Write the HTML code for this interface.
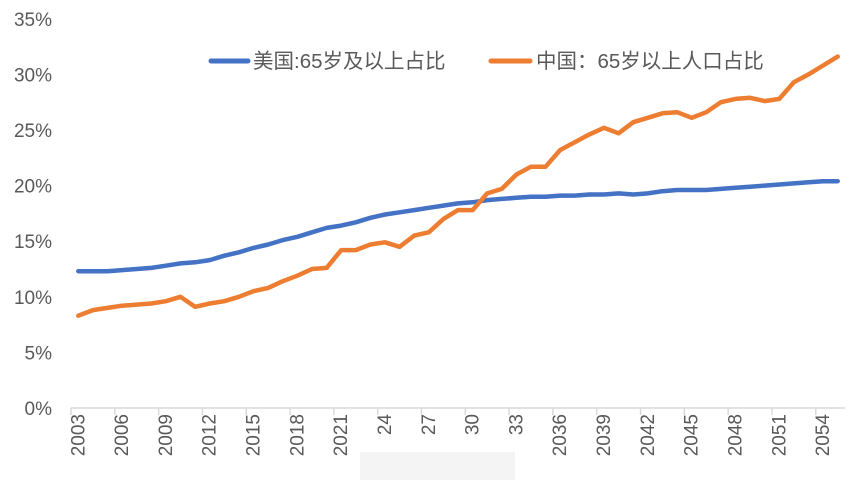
<!DOCTYPE html>
<html><head><meta charset="utf-8"><style>
body{margin:0;background:#fff;}
svg text{font-family:"Liberation Sans","Noto Sans CJK SC",sans-serif;fill:#595959;}
</style></head><body>
<svg id="chart" width="865" height="487" viewBox="0 0 865 487" xmlns="http://www.w3.org/2000/svg">
<g id="yaxis"></g>
<g id="xaxis"></g>
<g id="series"></g>
<rect x="360" y="452" width="155" height="28" fill="#ececec" opacity="0.6"/>
<g>
<line x1="211" y1="61" x2="248" y2="61" stroke="#4472C4" stroke-width="5" stroke-linecap="round"/>
<text x="253" y="68" font-size="20.5">美国:65岁及以上占比</text>
<line x1="491" y1="61" x2="530" y2="61" stroke="#ED7D31" stroke-width="5" stroke-linecap="round"/>
<text x="536" y="68" font-size="20.5">中国：65岁以上人口占比</text>
</g>
</svg>
<script>
const years=[];for(let y=2003;y<=2055;y++)years.push(y);
const usValues=[12.3,12.3,12.3,12.4,12.5,12.6,12.8,13.0,13.1,13.3,13.7,14.0,14.4,14.7,15.1,15.4,15.8,16.2,16.4,16.7,17.1,17.4,17.6,17.8,18.0,18.2,18.4,18.5,18.7,18.8,18.9,19.0,19.0,19.1,19.1,19.2,19.2,19.3,19.2,19.3,19.5,19.6,19.6,19.6,19.7,19.8,19.9,20.0,20.1,20.2,20.3,20.4,20.4];
const cnValues=[8.3,8.8,9.0,9.2,9.3,9.4,9.6,10.0,9.1,9.4,9.6,10.0,10.5,10.8,11.4,11.9,12.5,12.6,14.2,14.2,14.7,14.9,14.5,15.5,15.8,17.0,17.8,17.8,19.3,19.7,21.0,21.7,21.7,23.2,23.9,24.6,25.2,24.7,25.7,26.1,26.5,26.6,26.1,26.6,27.5,27.8,27.9,27.6,27.8,29.3,30.0,30.8,31.6];
const yTicks=[0,5,10,15,20,25,30,35];
const xLabels={2003:"2003",2006:"2006",2009:"2009",2012:"2012",2015:"2015",2018:"2018",2021:"2021",2024:"24",2027:"27",2030:"30",2033:"33",2036:"2036",2039:"2039",2042:"2042",2045:"2045",2048:"2048",2051:"2051",2054:"2054"};
const NS="http://www.w3.org/2000/svg";
const X0=71,X1=845,Y0=408,PER=55.6/5;
const bw=(X1-X0)/years.length;
const xs=i=>X0+bw*(i+0.5);
const ys=v=>Y0-v*PER;
function mk(tag,attrs,parent){const e=document.createElementNS(NS,tag);for(const k in attrs)e.setAttribute(k,attrs[k]);parent.appendChild(e);return e;}
const ya=document.getElementById('yaxis');
yTicks.forEach(t=>{
 const tx=mk('text',{x:52,y:ys(t)+7,'text-anchor':'end','font-size':19},ya);
 
 
 tx.textContent=t+'%';
});
const xa=document.getElementById('xaxis');
const ax=mk('line',{x1:X0,y1:Y0,x2:X1,y2:Y0,stroke:'#d9d9d9','stroke-width':1.5},xa);


years.forEach((y,i)=>{
 if((y-2003)%3===0){
  const tk=mk('line',{x1:X0+bw*i,y1:Y0,x2:X0+bw*i,y2:Y0+7,stroke:'#d9d9d9','stroke-width':1.5},xa);
  
  
  const cx=xs(i)+6;
  const tx=mk('text',{x:0,y:0,'font-size':19,transform:`translate(${cx},414) rotate(-90)`,'text-anchor':'end'},xa);
  
  
  tx.textContent=xLabels[y];
 }
});
const sg=document.getElementById('series');
function line(vals,color,name){
 const p=mk('polyline',{points:vals.map((v,i)=>xs(i).toFixed(1)+','+ys(v).toFixed(1)).join(' '),fill:'none',stroke:color,'stroke-width':4.5,'stroke-linejoin':'round','stroke-linecap':'round'},sg);
 
 
}
line(usValues,'#4472C4','us-65plus-line');
line(cnValues,'#ED7D31','china-65plus-line');
</script>
</body></html>
